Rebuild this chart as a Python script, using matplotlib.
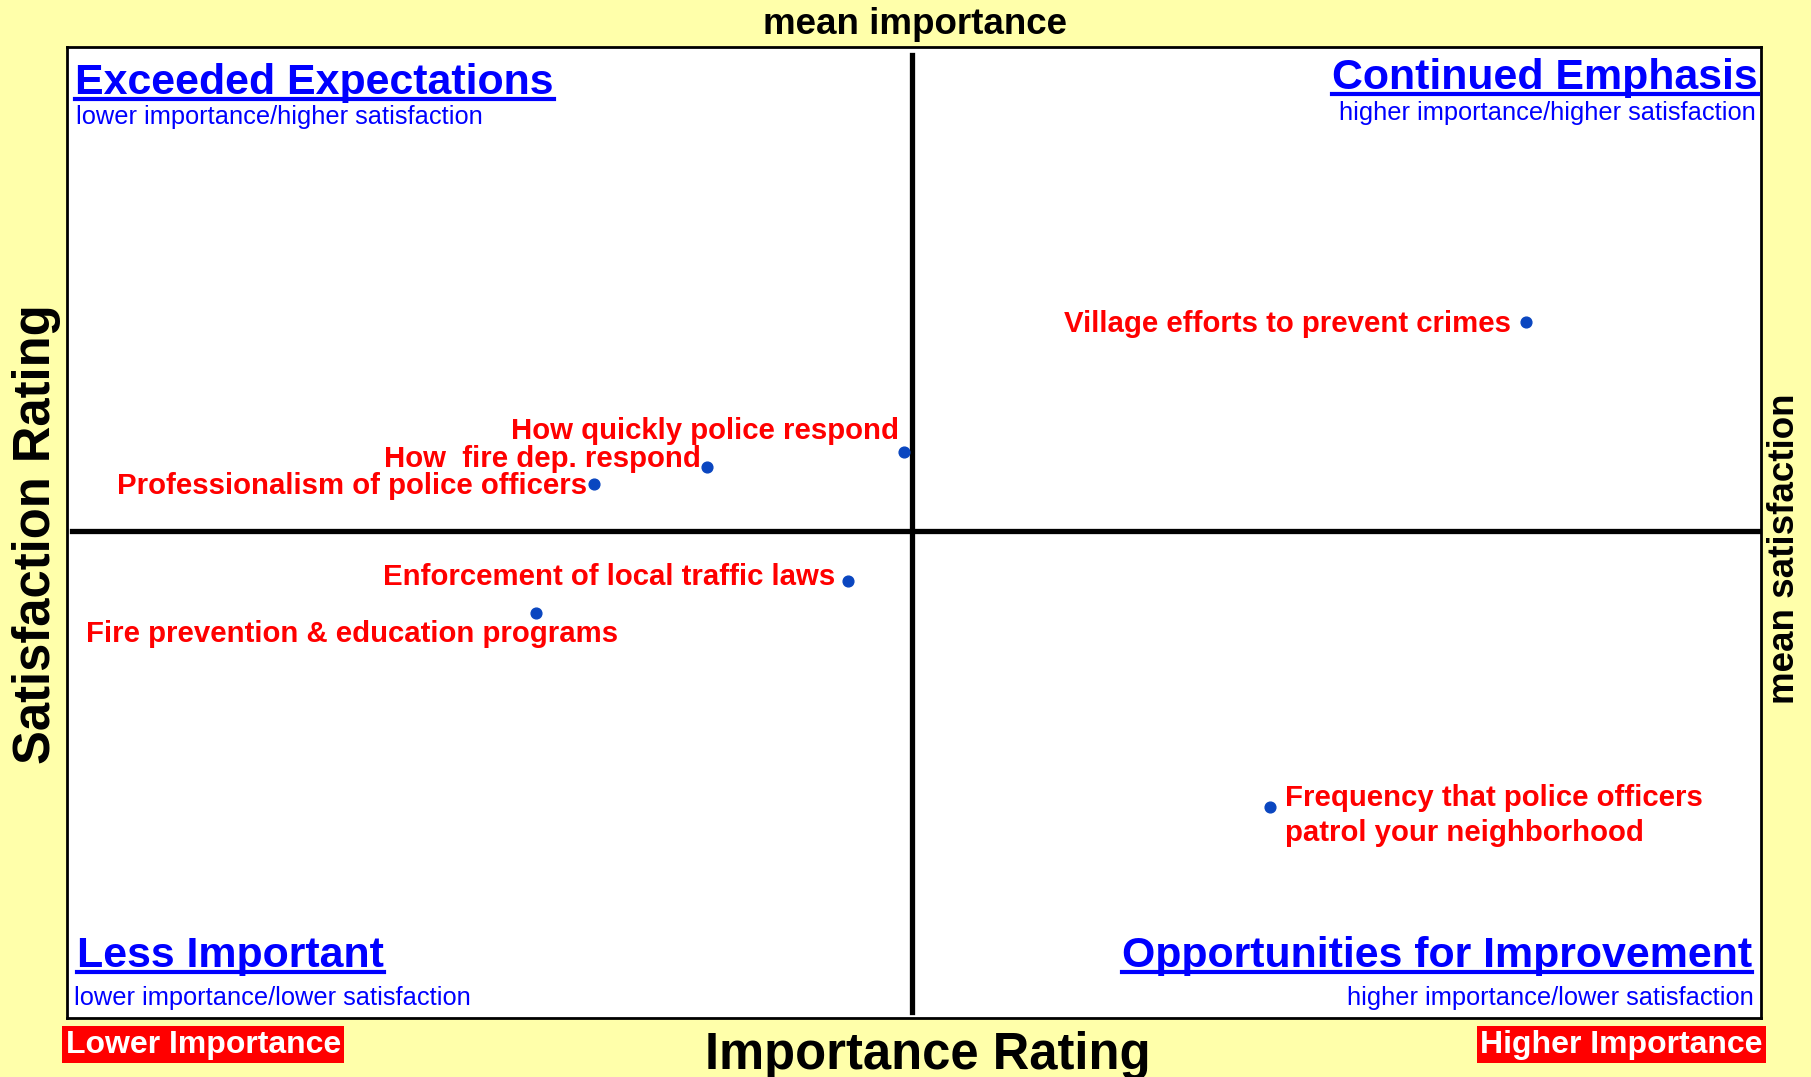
import matplotlib
matplotlib.use("Agg")
import matplotlib.pyplot as plt
from matplotlib.lines import Line2D

plt.rcParams['font.family'] = ['Liberation Sans', 'DejaVu Sans']

# importance / satisfaction ratings (relative scale)
items = ["Village efforts to prevent crimes",
         "How quickly police respond",
         "How  fire dep. respond",
         "Professionalism of police officers",
         "Enforcement of local traffic laws",
         "Fire prevention & education programs",
         "Frequency that police officers\npatrol your neighborhood"]
importance = [86.1, 49.4, 37.8, 31.1, 46.1, 27.7, 71.0]
satisfaction = [71.7, 58.3, 56.7, 55.0, 45.0, 41.7, 21.7]
mean_importance = 49.9
mean_satisfaction = 50.1

# label offsets in pixels and alignment
offsets = [(-15, -10, 'right'), (-5, 13, 'right'), (-7, 0, 'right'),
           (-7, -10, 'right'), (-13, -4, 'right'), (-450, -29, 'left'),
           (15, 23, 'left')]

bg = '#FFFFAA'
fig = plt.figure(figsize=(18.11, 10.77), dpi=100, facecolor=bg)
ax = fig.add_axes([0.037, 0.0548, 0.9356, 0.9016])
ax.set_xlim(0, 100)
ax.set_ylim(0, 100)
ax.set_xticks([])
ax.set_yticks([])
for s in ax.spines.values():
  s.set_linewidth(2)

ax.axvline(mean_importance, ymin=0.006, ymax=0.992, color='black', lw=3.8)
ax.axhline(mean_satisfaction, xmin=0.003, xmax=1, color='black', lw=3.8)

ax.scatter(importance, satisfaction, s=60, color='#0A46C0', zorder=3)

for name, x, y, (dx, dy, ha) in zip(items, importance, satisfaction, offsets):
  va = 'baseline' if '\n' not in name else 'top'
  ax.annotate(name, xy=(x, y), xytext=(dx, dy), textcoords='offset pixels',
              ha=ha, va=va, color='#FF0000', fontsize=21.2, fontweight='bold',
              linespacing=1.3)

# quadrant titles, positions given in figure fractions
W, H = 1568.0, 932.0
blue = '#0000FF'
titles = [("Exceeded Expectations", 65, 81, 'left'),
          ("Continued Emphasis", 1522, 77, 'right'),
          ("Less Important", 67, 837, 'left'),
          ("Opportunities for Improvement", 1517, 837, 'right')]
subs = [("lower importance/higher satisfaction", 66, 107, 'left'),
        ("higher importance/higher satisfaction", 1520, 104, 'right'),
        ("lower importance/lower satisfaction", 64, 870, 'left'),
        ("higher importance/lower satisfaction", 1518, 870, 'right')]

title_objs = []
for t, x, y, ha in titles:
  title_objs.append(fig.text(x / W, 1 - y / H, t, ha=ha, va='baseline',
                             color=blue, fontsize=30.9, fontweight='bold'))
for t, x, y, ha in subs:
  fig.text(x / W, 1 - y / H, t, ha=ha, va='baseline', color=blue, fontsize=18.3)

fig.text(792 / W, 1 - 29 / H, "mean importance", ha='center', va='baseline',
         fontsize=26.5, fontweight='bold')
fig.text(1545 / W, 1 - 475 / H, "mean satisfaction", ha='center', va='center',
         rotation=90, fontsize=26.5, fontweight='bold')
fig.text(803 / W, 1 - 925 / H, "Importance Rating", ha='center', va='baseline',
         fontsize=36.5, fontweight='bold')
fig.text(32 / W, 1 - 462 / H, "Satisfaction Rating", ha='center', va='center',
         rotation=90, fontsize=36.5, fontweight='bold')

fig.text(176 / W, 1 - 904 / H, "Lower Importance", ha='center', va='center',
         color='white', fontsize=23, fontweight='bold',
         bbox=dict(boxstyle='square,pad=0.1', fc='#FF0000', ec='none'))
fig.text(1404 / W, 1 - 904 / H, "Higher Importance", ha='center', va='center',
         color='white', fontsize=23, fontweight='bold',
         bbox=dict(boxstyle='square,pad=0.1', fc='#FF0000', ec='none'))

# underline the quadrant titles
fig.canvas.draw()
r = fig.canvas.get_renderer()
for t in title_objs:
  bb = t.get_window_extent(r)
  fw, fh = fig.bbox.width, fig.bbox.height
  yl = (bb.y0 + 4) / fh
  fig.add_artist(Line2D([bb.x0 / fw, bb.x1 / fw], [yl, yl], color=blue, lw=3,
                        transform=fig.transFigure))

fig.savefig('out.png', dpi=100, facecolor=bg)
